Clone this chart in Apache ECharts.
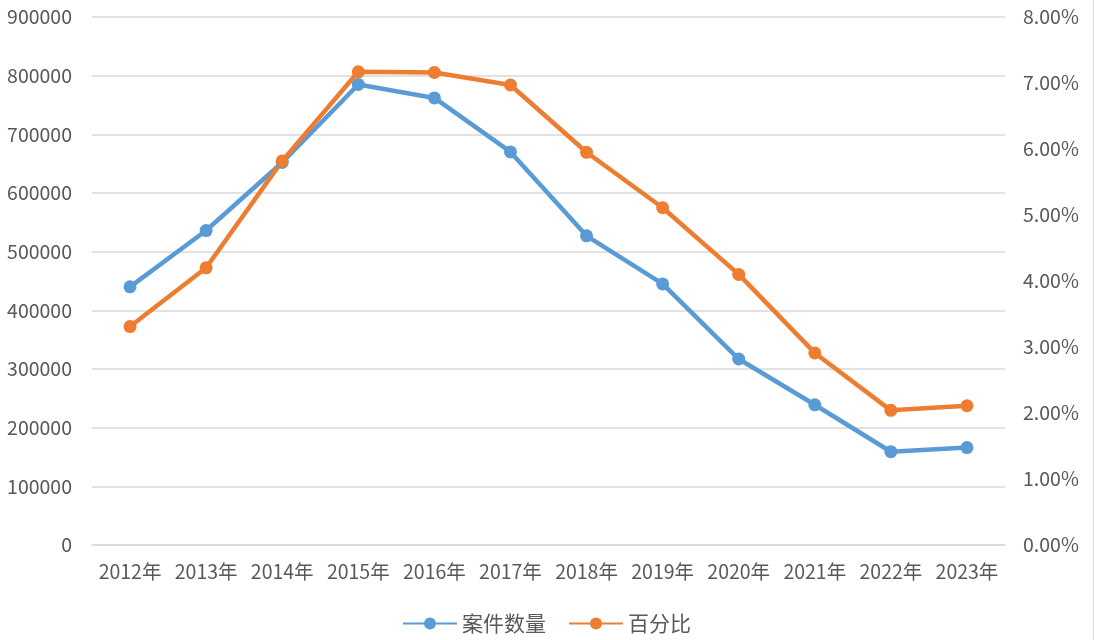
<!DOCTYPE html>
<html>
<head>
<meta charset="utf-8">
<script src="https://cdn.jsdelivr.net/npm/echarts@6/dist/echarts.min.js"></script>
<style>
html,body{margin:0;padding:0;background:#fff;}
#chart{width:1093px;height:640px;border-right:1px solid #d9d9d9;}
</style>
</head>
<body>
<div id="chart"></div>
<script>
const categories = ['2012年','2013年','2014年','2015年','2016年','2017年','2018年','2019年','2020年','2021年','2022年','2023年'];
const caseCounts = [440000, 536000, 652000, 785000, 762000, 670000, 527000, 445000, 317000, 239000, 159000, 166000];
const percents = [0.0331, 0.0420, 0.0582, 0.0717, 0.0716, 0.0697, 0.0595, 0.0511, 0.0410, 0.0291, 0.0204, 0.0211];
const seriesNames = ['案件数量', '百分比'];

const font = '"Noto Sans CJK SC", "Noto Sans", sans-serif';
const textColor = '#595959';
const chart = echarts.init(document.getElementById('chart'));
chart.setOption({
  animation: false,
  color: ['#5B9BD5', '#ED7D31'],
  textStyle: { fontFamily: font },
  grid: { left: 92, right: 88, top: 17, bottom: 95, containLabel: false },
  legend: {
    bottom: 1,
    left: 'center',
    itemWidth: 54,
    itemHeight: 15,
    itemGap: 22,
    textStyle: { color: textColor, fontSize: 21, fontFamily: font },
    data: seriesNames
  },
  xAxis: {
    type: 'category',
    data: categories,
    boundaryGap: true,
    axisLine: { show: true, lineStyle: { color: '#d9d9d9', width: 1.5 } },
    axisTick: { show: false },
    axisLabel: { color: textColor, fontSize: 19.5, margin: 17, fontFamily: font, interval: 0 }
  },
  yAxis: [
    {
      type: 'value', min: 0, max: 900000, interval: 100000,
      axisLine: { show: false }, axisTick: { show: false },
      splitLine: { lineStyle: { color: '#d9d9d9', width: 1.5 } },
      axisLabel: { color: textColor, fontSize: 19.5, margin: 20, fontFamily: font,
        formatter: v => String(v) }
    },
    {
      type: 'value', min: 0, max: 0.08, interval: 0.01,
      axisLine: { show: false }, axisTick: { show: false },
      splitLine: { show: false },
      axisLabel: { color: textColor, fontSize: 19.5, margin: 18, fontFamily: font,
        formatter: v => (v * 100).toFixed(2) + '%' }
    }
  ],
  series: [
    {
      name: seriesNames[0], type: 'line', yAxisIndex: 0, data: caseCounts,
      symbol: 'circle', symbolSize: 13,
      lineStyle: { width: 4.5 }, itemStyle: { color: '#5B9BD5' }
    },
    {
      name: seriesNames[1], type: 'line', yAxisIndex: 1, data: percents,
      symbol: 'circle', symbolSize: 13,
      lineStyle: { width: 4.5 }, itemStyle: { color: '#ED7D31' }
    }
  ]
});
</script>
</body>
</html>
